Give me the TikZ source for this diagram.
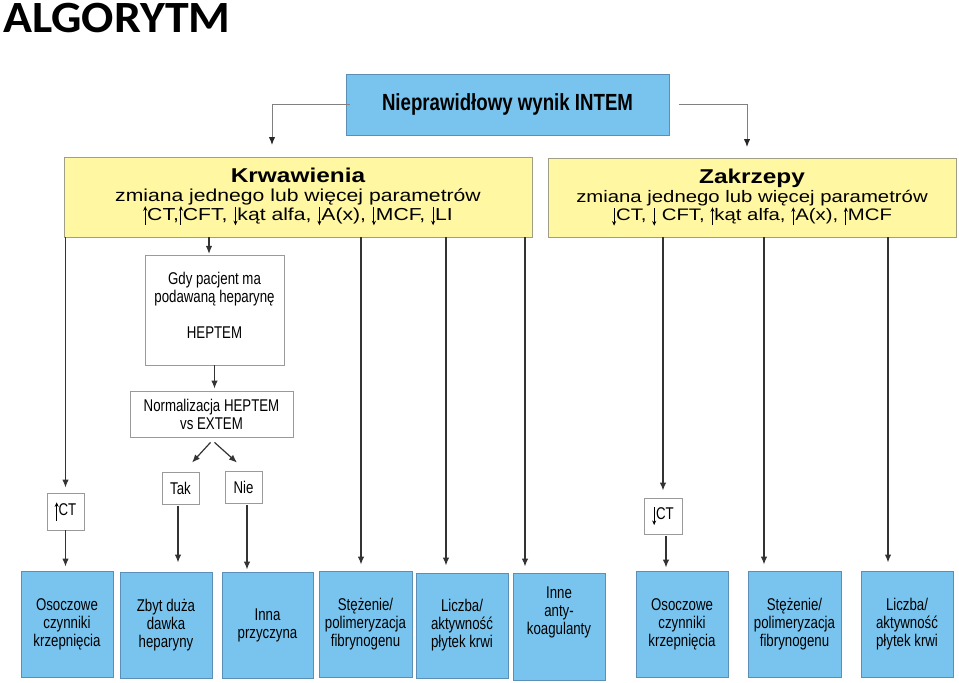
\documentclass[tikz,border=0pt]{standalone}
\usepackage{fontspec}
\setmainfont{Liberation Sans}
\newfontfamily\titlefont[FakeStretch=1.07]{Carlito}
\newfontfamily\topfont[FakeStretch=0.8]{Liberation Sans}
\newfontfamily\yfont[FakeStretch=1.22]{Liberation Sans}
\newfontfamily\nfont[FakeStretch=0.78]{Liberation Sans}
\usetikzlibrary{arrows.meta,calc}
\definecolor{boxblue}{HTML}{78C4EE}
\definecolor{boxblueline}{HTML}{5B8FB5}
\definecolor{boxyellow}{HTML}{FFF7A1}
\definecolor{yline}{HTML}{A09F86}
\definecolor{wline}{HTML}{9A9A9A}
\definecolor{lineclr}{HTML}{333333}
\newcommand{\upa}{\tikz[baseline=0pt]\draw[line width=0.75pt,draw=black,-{Stealth[length=3.4pt,width=3pt]}] (0,-0.28em) -- (0,0.8em);}
\newcommand{\dna}{\tikz[baseline=0pt]\draw[line width=0.75pt,draw=black,-{Stealth[length=3.4pt,width=3pt]}] (0,0.76em) -- (0,-0.3em);}
\tikzset{
  sz/.style 2 args={minimum width=#1*0.75pt, minimum height=#2*0.75pt},
  bbox/.style={draw=boxblueline, fill=boxblue, line width=0.6pt, inner sep=0pt, align=center},
  ybox/.style={draw=yline, fill=boxyellow, line width=0.6pt, inner sep=0pt, align=center},
  wbox/.style={draw=wline, fill=white, line width=0.6pt, inner sep=0pt, align=center},
  ntext/.style={font=\nfont\fontsize{12.75}{13.5}\selectfont},
  ytext/.style={font=\yfont\fontsize{13}{14}\selectfont},
  conn/.style={draw=lineclr, line width=0.9pt, -{Latex[length=6pt,width=4.8pt]}},
  gconn/.style={draw=gray, line width=0.7pt, -{Latex[length=6pt,width=4.8pt,color=black!85]}},
}
\begin{document}
\begin{tikzpicture}[x=0.75pt,y=-0.75pt]
\useasboundingbox (0,0) rectangle (959,682);
% title
\node[anchor=base west, inner sep=0pt, font=\titlefont\bfseries\fontsize{33.5}{38}\selectfont] (title) at (3,32.5) {ALGORYTM};
% top box
\node[bbox, sz={323}{61}, font=\topfont\bfseries\fontsize{17.5}{20}\selectfont] (top) at (507.5,104.5) {Nieprawidłowy wynik INTEM};
% yellow boxes
\node[ybox, sz={468}{80}, ytext] (krw) at (298,197)
 {{\bfseries\fontsize{15}{16}\selectfont Krwawienia}\\
  zmiana jednego lub więcej parametrów\\
  \upa CT,\upa CFT, \dna kąt alfa, \dna A(x), \dna MCF, \dna LI};
\node[ybox, sz={408}{79}, ytext, font=\yfont\fontsize{12.5}{14}\selectfont] (zak) at (752,197.5)
 {{\bfseries\fontsize{15}{16}\selectfont Zakrzepy}\\
  zmiana jednego lub więcej parametrów\\
  \dna CT, \dna\ CFT, \upa kąt alfa, \upa A(x), \upa MCF};
% white boxes
\node[wbox, sz={139}{110}, ntext] (gdy) at (214.5,310) {Gdy pacjent ma\\podawaną heparynę\\[13.5pt]HEPTEM\\[-6pt]\mbox{}};
\node[wbox, sz={163}{46}, ntext] (norm) at (211.5,414) {Normalizacja HEPTEM\\vs EXTEM};
\node[wbox, sz={37}{32}, ntext] (tak) at (180.5,488) {Tak};
\node[wbox, sz={37}{32}, ntext] (nie) at (243.5,487) {Nie};
\node[wbox, sz={37}{37}, ntext] (ct1) at (65.5,511.5) {\upa CT};
\node[wbox, sz={38}{36}, ntext] (ct2) at (663,516) {\dna CT};
% bottom boxes
\node[bbox, sz={92}{106}, ntext] (oso1) at (67,624) {Osoczowe\\czynniki\\krzepnięcia};
\node[bbox, sz={92}{106}, ntext] (zbyt) at (166,625) {Zbyt duża\\dawka\\heparyny};
\node[bbox, sz={91}{106}, ntext] (inna) at (267.5,625) {Inna\\przyczyna};
\node[bbox, sz={93}{106}, ntext] (stez1) at (365.5,624) {Stężenie/\\polimeryzacja\\fibrynogenu};
\node[bbox, sz={92}{105}, ntext] (licz1) at (462,625.5) {Liczba/\\aktywność\\płytek krwi};
\node[bbox, sz={92}{107}, ntext] (inne) at (559,626.5) {Inne\\anty-\\koagulanty\\[10pt]\mbox{}};
\node[bbox, sz={92}{106}, ntext] (oso2) at (682,624) {Osoczowe\\czynniki\\krzepnięcia};
\node[bbox, sz={93}{106}, ntext] (stez2) at (794.5,624) {Stężenie/\\polimeryzacja\\fibrynogenu};
\node[bbox, sz={92}{106}, ntext] (licz2) at (907,624) {Liczba/\\aktywność\\płytek krwi};
% column coordinates
\coordinate (a1) at (272,145);
\coordinate (a2) at (747,147);
\coordinate (xg) at (209,0);
\coordinate (xt) at (178,0);
\coordinate (xn) at (247,0);
\coordinate (xs1) at (361,0);
\coordinate (xl1) at (446,0);
\coordinate (xi) at (525,0);
\coordinate (xo2) at (666,0);
\coordinate (xs2) at (764,0);
\coordinate (xl2) at (888,0);
% top connectors
\draw[gconn, shorten <=-3pt] (top.west) -| (a1);
\draw[gconn, shorten <=7pt] (top.east) -| (a2);
% left branch
\draw[conn, shorten >=3.75pt] (krw.south -| ct1.north) -- (ct1.north);
\draw[conn, shorten >=3pt] (ct1.south) -- (ct1.south |- oso1.north);
\draw[conn, shorten >=0.5pt] (krw.south -| xg) -- (xg |- gdy.north);
\draw[conn, shorten >=1.5pt] (gdy.south) -- (gdy.south |- norm.north);
\draw[conn] ($(norm.south)+(-1,5)$) -- ($(tak.north)+(11.5,-9)$);
\draw[conn] ($(norm.south)+(3,5)$) -- ($(nie.north)+(-6.5,-8)$);
\draw[conn, shorten <=1.5pt, shorten >=6.75pt] (tak.south -| xt) -- (xt |- zbyt.north);
\draw[conn, shorten <=1.5pt, shorten >=1.5pt] (nie.south -| xn) -- (xn |- inna.north);
\draw[conn, shorten >=4.5pt] (krw.south -| xs1) -- (xs1 |- stez1.north);
\draw[conn, shorten >=5.25pt] (krw.south -| xl1) -- (xl1 |- licz1.north);
\draw[conn, shorten >=4.5pt] (krw.south -| xi) -- (xi |- inne.north);
% right branch
\draw[conn, shorten >=5.25pt] (zak.south -| ct2.north) -- (ct2.north);
\draw[conn, shorten <=1pt, shorten >=2.25pt] (ct2.south -| xo2) -- (xo2 |- oso2.north);
\draw[conn, shorten >=4.5pt] (zak.south -| xs2) -- (xs2 |- stez2.north);
\draw[conn, shorten >=6pt] (zak.south -| xl2) -- (xl2 |- licz2.north);
\end{tikzpicture}
\end{document}
